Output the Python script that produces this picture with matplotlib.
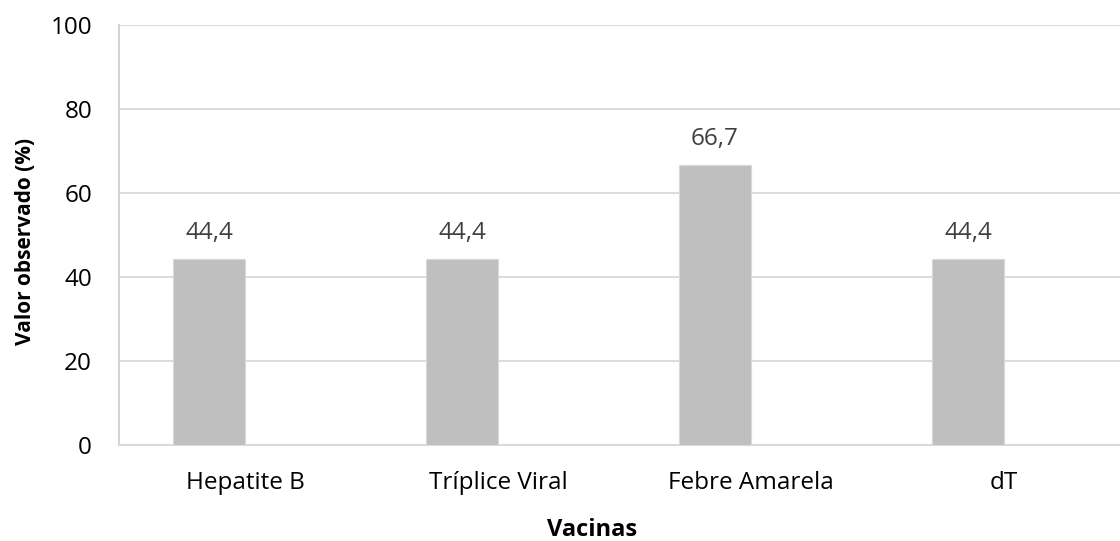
import numpy as np
import matplotlib.pyplot as plt

# dados
vacinas = ["Hepatite B", "Tríplice Viral", "Febre Amarela", "dT"]
valores = [44.4, 44.4, 66.7, 44.4]
rotulos = ["44,4", "44,4", "66,7", "44,4"]
yticks = [0, 20, 40, 60, 80, 100]

plt.rcParams["font.family"] = ["Open Sans", "DejaVu Sans"]

W, H = 1120, 541
fig = plt.figure(figsize=(W / 100, H / 100), dpi=100)
# area do grafico (em pixels): esquerda 118.5, topo 25, base 445
ax = fig.add_axes([118.5 / W, (H - 445) / H, 1 - 118.5 / W, 420 / H])

x = np.arange(len(vacinas))
largura = 0.285
ax.bar(x - largura / 2, valores, width=largura, color="#BFBFBF",
       edgecolor="#D9D9D9", linewidth=0.8, zorder=3)

for xi, v, r in zip(x, valores, rotulos):
    ax.annotate(r, (xi - largura / 2, v), xytext=(0, 14), textcoords="offset points",
                ha="center", va="baseline", fontsize=17.5, color="#404040")

ax.set_xlim(-0.5, 3.5 - 10.5 / 253)
ax.set_ylim(0, 100)
ax.set_yticks(yticks)
ax.set_yticklabels([str(t) for t in yticks])
ax.set_xticks(x)
ax.set_xticklabels(vacinas)
ax.tick_params(axis="both", length=0, labelsize=17.5, colors="#000000")
ax.tick_params(axis="y", pad=19)
ax.tick_params(axis="x", pad=19)

ax.yaxis.grid(True, color="#D9D9D9", linewidth=1.3, zorder=0)
ax.set_axisbelow(True)
for s in ["top", "right"]:
    ax.spines[s].set_visible(False)
ax.spines["left"].set_color("#D0D0D0")
ax.spines["left"].set_linewidth(1.3)
ax.spines["bottom"].set_color("#D9D9D9")
ax.spines["bottom"].set_linewidth(1.5)

fig.text(592 / W, 1 - 530 / H, "Vacinas", ha="center", va="center",
         fontsize=17, fontweight="bold")
fig.text(26 / W, 1 - 241 / H, "Valor observado (%)", ha="center", va="center",
         rotation=90, fontsize=15, fontweight="bold")

fig.savefig("out.png", dpi=100)
